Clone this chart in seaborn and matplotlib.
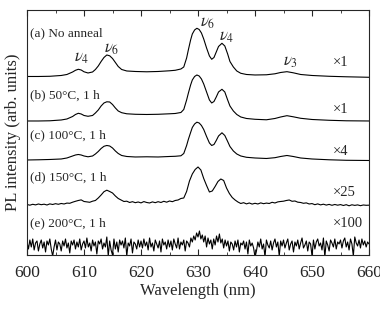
import numpy as np
import pandas as pd
import matplotlib
matplotlib.use("Agg")
import matplotlib.pyplot as plt
import seaborn as sns
from matplotlib.ticker import MultipleLocator

# wavelength grid for the smooth spectra (nm)
wl_smooth = [600, 602, 604, 606, 607, 608, 608.5, 609, 609.5, 610, 610.7, 611.5, 612, 612.5,
             613, 613.5, 614, 614.5, 615, 615.5, 616, 616.6, 617.5, 619, 621, 623, 625, 626,
             627, 627.5, 628, 628.3, 628.7, 629, 629.4, 629.8, 630.2, 630.6, 631, 631.5, 632,
             632.4, 632.8, 633.2, 633.6, 634.2, 634.7, 635.2, 635.6, 636.2, 636.8, 637.5, 638.5,
             640, 642, 643.5, 644.5, 645.6, 646.7, 648, 650, 653, 656, 660]

# (a) no anneal, x1
int_a = [0.8, 0.8, 1.0, 1.8, 2.8, 5.3, 7.0, 8.0, 7.3, 5.5, 4.3, 5.3, 7.8, 11.3,
         15.8, 19.8, 22.3, 21.5, 18.8, 14.8, 10.8, 7.8, 6.3, 5.8, 5.5, 5.8, 6.5, 7.0,
         8.3, 10.3, 19.3, 27.3, 37.3, 43.3, 47.3, 49.0, 47.8, 44.3, 38.3, 29.3, 21.3,
         18.0, 19.8, 25.3, 30.8, 34.0, 31.3, 23.3, 15.8, 10.3, 6.3, 4.0, 2.8,
         2.3, 2.5, 3.5, 4.8, 5.6, 4.5, 2.8, 1.8, 1.0, 0.5, 0.0]

# (b) 50 C, x1
int_b = [0.0, 0.0, 0.2, 1.0, 2.0, 4.5, 6.5, 7.7, 7.0, 5.5, 4.7, 5.5, 8.0, 11.0,
         15.0, 18.0, 19.2, 19.0, 16.5, 13.0, 10.0, 8.3, 7.2, 6.7, 6.5, 6.7, 7.2, 7.5,
         8.5, 11.5, 21.0, 27.7, 36.0, 41.0, 44.5, 46.0, 45.0, 42.0, 37.0, 29.0, 21.0,
         18.0, 19.5, 24.0, 29.0, 31.7, 29.0, 21.0, 15.0, 10.0, 6.5, 4.0, 2.5,
         1.7, 1.2, 2.5, 4.0, 5.3, 4.2, 2.7, 1.5, 0.7, 0.2, 0.0]

# (c) 100 C, x4
int_c = [0.5, 0.7, 1.0, 1.5, 2.5, 4.5, 5.5, 6.0, 5.5, 4.5, 3.7, 4.5, 6.5, 9.0,
         12.0, 14.2, 15.0, 14.5, 12.5, 9.5, 7.0, 5.0, 4.0, 3.5, 3.7, 3.5, 4.0, 4.2,
         4.7, 7.0, 15.0, 21.0, 28.0, 33.0, 36.5, 38.3, 37.5, 35.0, 31.0, 24.0, 17.5,
         15.0, 16.0, 20.0, 24.5, 27.7, 25.0, 19.0, 14.0, 9.5, 6.5, 4.5, 3.2,
         2.5, 2.0, 2.8, 4.0, 5.0, 4.0, 2.5, 1.5, 0.7, 0.2, 0.0]

# (d) 150 C, x25 -- 0.5 nm steps from 600 to 660
int_d = [1.0, 0.3, 1.2, 0.6, 1.5, 0.8, 1.3, 0.5, 1.6, 1.0, 1.8, 1.2, 2.0, 1.5, 2.4, 2.2,
         3.3, 4.2, 5.0, 5.6, 4.0, 3.6, 3.2, 4.3, 5.0, 7.5, 10.5, 13.8, 15.3, 14.0, 12.5,
         9.5, 7.0, 5.5, 4.0, 4.3, 3.0, 3.8, 2.8, 3.5, 2.6, 3.9, 3.0, 2.5, 3.6, 2.8, 3.8,
         3.0, 4.2, 3.3, 4.5, 3.8, 5.0, 5.5, 7.0, 7.5, 14.0, 24.5, 31.5, 36.0, 38.5, 35.5,
         27.0, 20.0, 13.5, 14.5, 19.0, 24.0, 26.5, 25.0, 17.5, 12.0, 8.0, 5.5, 3.5, 2.0,
         2.8, 1.6, 2.5, 1.4, 2.2, 1.5, 2.6, 1.8, 2.4, 2.0, 3.2, 2.5, 3.6, 4.0, 4.3, 5.0,
         5.5, 4.2, 4.5, 3.3, 3.0, 2.2, 2.6, 1.5, 1.9, 0.8, 1.6, 0.6, 1.3, 0.4, 1.1, 0.2,
         1.0, 0.3, 0.9, 0.0, 0.8, -0.3, 0.7, 0.1, 0.6, -0.2, 0.5, 0.2, 0.3]

# (e) 200 C, x100 -- 0.25 nm steps from 600 to 660
int_e = [3, -4, 5, -2, 6, -5, 2, 4, -6, 1, 5, -3, 3, -7, 4, 0, 6, -4, -11, -2,
         5, -5, 3, 1, -6, 4, -1, 6, -3, 2, -8, 4, 0, 5, -4, 3, -2, 6, -5, 1,
         4, -3, 7, -2, 2, -6, 5, -1, 3, -9, 4, 1, 6, -4, 2, -2, 8, -11, 4, -5,
         -10, 6, -4, 3, -7, 5, 0, 4, -3, 7, -11, 2, -1, 6, -8, 3, 1, -4, 5, -2,
         4, -3, 6, -1, 3, -5, 7, -2, 2, -6, 5, 1, -3, 4, -7, 6, 0, 3, -4, 5,
         -2, 4, -5, 6, 1, -3, 7, -4, 3, 0, 5, -6, 4, 2, -2, 7, 3, 9, 5, 12,
         8, 14, 6, 10, 3, 9, -2, 7, 1, 5, -4, 6, 0, 9, 3, 11, 2, 6, -3, 5,
         -1, 4, -6, 3, 1, -5, 4, -2, 5, -7, 2, 0, 4, -4, 3, -9, 5, -1, 2, -3,
         -12, -6, 3, -2, 6, -4, 1, -12, 5, 0, -3, 4, -5, 2, 6, -2, 3, -11, 4, -1,
         5, -3, 2, 6, -5, 1, 4, -7, 3, -1, 5, -4, 2, 7, -3, 0, 4, -6, 3, 1,
         -11, 5, -4, 3, 6, -1, 2, -5, 7, -12, 4, 0, -6, 5, 2, -2, 6, -4, 3, 1,
         5, -3, 4, 7, -2, 3, -5, 6, 1, -11, 8, 2, -1, 5, -3, 6, 0, 4, -2, 3,
         1]

labels = ["(a) No anneal", "(b) 50°C, 1 h", "(c) 100°C, 1 h", "(d) 150°C, 1 h", "(e) 200°C, 1 h"]
factors = ["×1", "×1", "×4", "×25", "×100"]
offsets = [177.7, 134, 94.5, 49.5, 10]   # vertical stacking of the traces

wl_d = np.arange(600, 660.01, 0.5)
wl_e = np.arange(600, 660.01, 0.25)

traces = [(wl_smooth, int_a), (wl_smooth, int_b), (wl_smooth, int_c), (wl_d, int_d), (wl_e, int_e)]

sns.set_style("ticks")
plt.rcParams["font.family"] = ["Liberation Serif", "DejaVu Serif"]
plt.rcParams["mathtext.fontset"] = "stix"

fig = plt.figure(figsize=(3.8, 3.09), dpi=100)
ax = fig.add_axes([0.0711, 0.1748, 0.9, 0.7929])

for (x, y), off in zip(traces, offsets):
    df = pd.DataFrame({"wl": x, "I": np.array(y, dtype=float) + off})
    sns.lineplot(data=df, x="wl", y="I", ax=ax, color="black", lw=0.8, estimator=None, sort=False)

# sample labels and multiplication factors
label_y = [222, 160, 120, 78, 32]
factor_y = [192, 145, 103, 62, 31]
for lab, fy, ly, fac in zip(labels, factor_y, label_y, factors):
    ax.text(600.5, ly, lab, fontsize=9.5, va="center", ha="left")
    ax.text(653.7, fy, fac, fontsize=10.5, va="center", ha="left")

# vibrational mode labels
modes = [(609.6, 197, r"$\nu_4$"), (614.8, 206, r"$\nu_6$"), (631.6, 232, r"$\nu_6$"),
         (635.1, 218, r"$\nu_4$"), (646.3, 193, r"$\nu_3$")]
for mx, my, mt in modes:
    ax.text(mx, my, mt, fontsize=12, ha="center", va="center")

ax.set_xlim(600, 660)
ax.set_ylim(0, 245)
ax.xaxis.set_major_locator(MultipleLocator(10))
ax.xaxis.set_minor_locator(MultipleLocator(5))
ax.tick_params(axis="x", which="both", direction="in", top=True, labelsize=12.5, pad=7)
ax.tick_params(axis="x", which="major", length=4)
ax.tick_params(axis="x", which="minor", length=2.5)
ax.set_yticks([])
for s in ax.spines.values():
    s.set_linewidth(0.8)
ax.set_xlabel("Wavelength (nm)", fontsize=12, labelpad=2)
ax.set_ylabel("PL intensity (arb. units)", fontsize=12, labelpad=4)

fig.savefig("out.png", dpi=100)
